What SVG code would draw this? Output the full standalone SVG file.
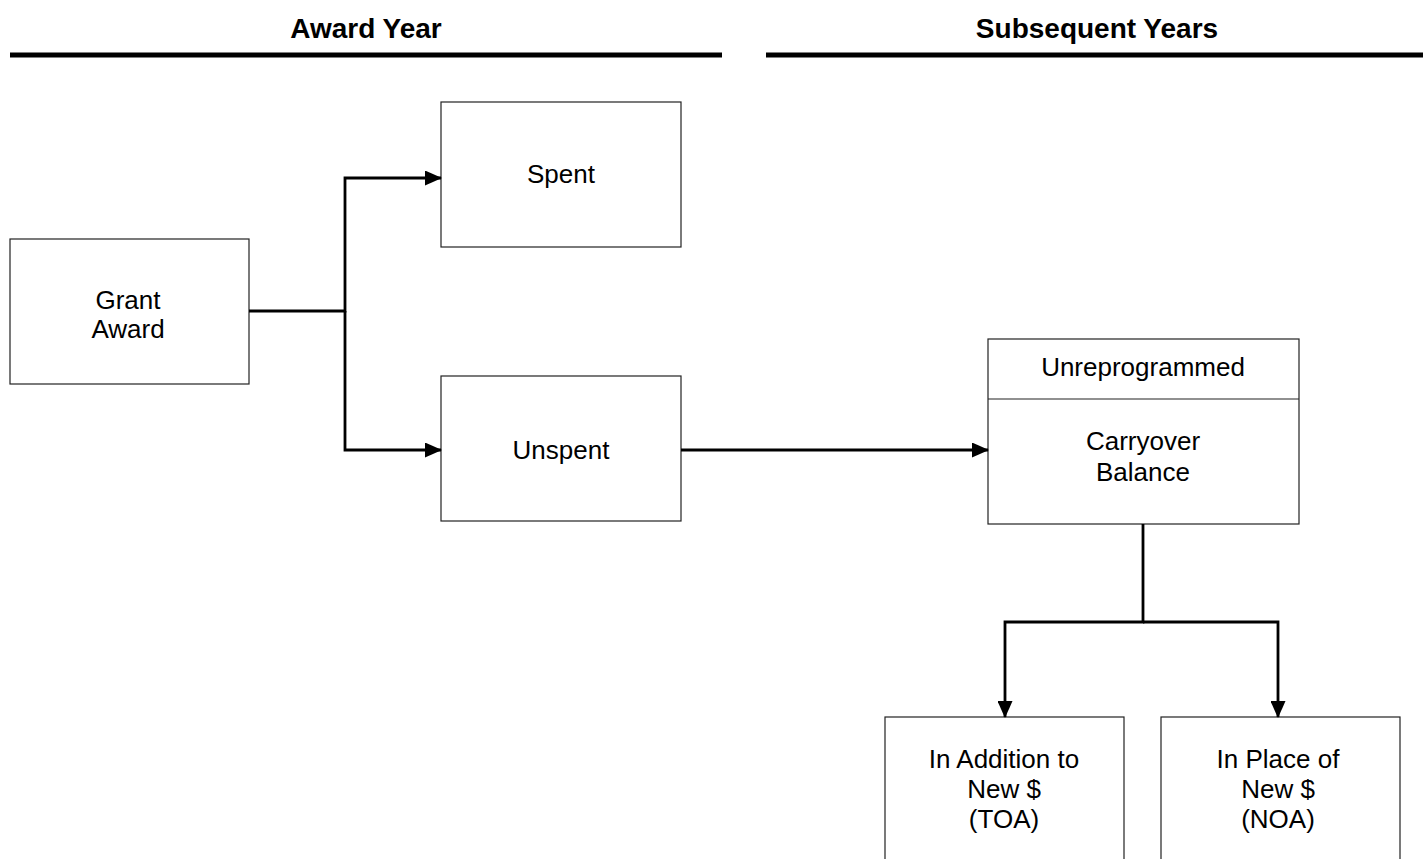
<svg xmlns="http://www.w3.org/2000/svg" width="1423" height="859" viewBox="0 0 1423 859">
<style>
.box{fill:#fff;stroke:#222;stroke-width:1.2}
.t{font-family:"Liberation Sans",Arial,sans-serif;font-size:26px;fill:#000;text-anchor:middle}
.h{font-family:"Liberation Sans",Arial,sans-serif;font-size:28px;font-weight:bold;fill:#000;text-anchor:middle}
.c{fill:none;stroke:#000;stroke-width:2.8}
.rule{stroke:#000;stroke-width:5}
</style>
<defs>
<marker id="arr" markerWidth="17" markerHeight="15" refX="16" refY="7.5" orient="auto" markerUnits="userSpaceOnUse">
<path d="M0,0 L17,7.5 L0,15 Z" fill="#000"/>
</marker>
</defs>
<g id="header-award">
<text class="h" x="366" y="38">Award Year</text>
<line class="rule" x1="10" y1="55" x2="722" y2="55"/>
</g>
<g id="header-subsequent">
<text class="h" x="1097" y="38">Subsequent Years</text>
<line class="rule" x1="766" y1="55" x2="1423" y2="55"/>
</g>
<g id="grant-award">
<rect class="box" x="10" y="239" width="239" height="145"/>
<text class="t" x="128" y="309">Grant</text>
<text class="t" x="128" y="338">Award</text>
</g>
<g id="spent">
<rect class="box" x="441" y="102" width="240" height="145"/>
<text class="t" x="561" y="183">Spent</text>
</g>
<g id="unspent">
<rect class="box" x="441" y="376" width="240" height="145"/>
<text class="t" x="561" y="459">Unspent</text>
</g>
<g id="carryover">
<rect class="box" x="988" y="339" width="311" height="185"/>
<line class="box" x1="988" y1="399" x2="1299" y2="399"/>
<text class="t" x="1143" y="376">Unreprogrammed</text>
<text class="t" x="1143" y="450">Carryover</text>
<text class="t" x="1143" y="481">Balance</text>
</g>
<g id="in-addition">
<rect class="box" x="885" y="717" width="239" height="170"/>
<text class="t" x="1004" y="768">In Addition to</text>
<text class="t" x="1004" y="798">New $</text>
<text class="t" x="1004" y="828">(TOA)</text>
</g>
<g id="in-place">
<rect class="box" x="1161" y="717" width="239" height="170"/>
<text class="t" x="1278" y="768">In Place of</text>
<text class="t" x="1278" y="798">New $</text>
<text class="t" x="1278" y="828">(NOA)</text>
</g>
<g id="connectors">
<polyline class="c" points="249,311 345,311 345,178 441,178" marker-end="url(#arr)"/>
<polyline class="c" points="345,311 345,450 441,450" marker-end="url(#arr)"/>
<line class="c" x1="681" y1="450" x2="988" y2="450" marker-end="url(#arr)"/>
<polyline class="c" points="1143,524 1143,622 1005,622 1005,717" marker-end="url(#arr)"/>
<polyline class="c" points="1143,622 1278,622 1278,717" marker-end="url(#arr)"/>
</g>
</svg>
